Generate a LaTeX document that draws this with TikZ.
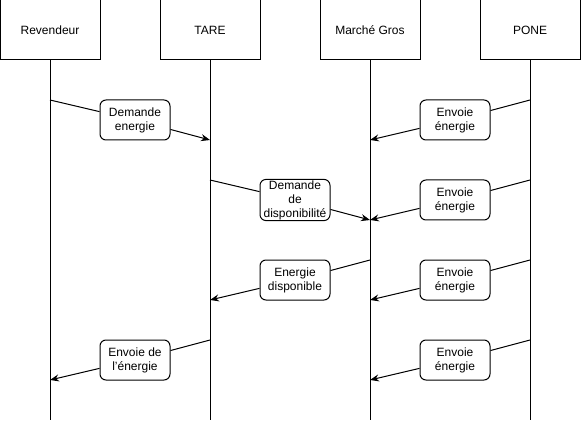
\documentclass[tikz,border=0pt]{standalone}
\usepackage{fontspec}
\setmainfont{Liberation Sans}
\usetikzlibrary{arrows.meta}
\begin{document}
\begin{tikzpicture}
        [x=1pt,y=-1pt,line width=1pt,
         actor/.style={draw,minimum width=100pt,minimum height=60pt,inner sep=0pt},
         msg/.style={draw,fill=white,rounded corners=6pt,minimum width=70pt,minimum height=40pt,
           inner sep=1pt,align=center},
         >={Stealth[length=9pt,width=7pt]}]
        \fontsize{12}{14}\selectfont
        \useasboundingbox (0,0) rectangle (581,422);

        \node[actor] (rev) at (50,30) {Revendeur};
        \node[actor] (tare) at (210,30) {TARE};
        \node[actor] (gros) at (370,30) {Marché Gros};
        \node[actor] (pone) at (530,30) {PONE};

        \foreach \n/\x in {rev/50,tare/210,gros/370,pone/530}
        {\coordinate (\n-end) at (\x,420);
         \draw (\n) -- (\n-end);}

        \coordinate (rev-100) at (50,100);
        \coordinate (tare-140) at (210,140);
        \node[msg] (dem) at (135,120) {Demande\\energie};
        \draw (rev-100) -- (dem);
        \draw[->] (dem) -- (tare-140);

        \coordinate (tare-180) at (210,180);
        \coordinate (gros-220) at (370,220);
        \node[msg] (dispo) at (295,200) {Demande\\de\\disponibilité};
        \draw (tare-180) -- (dispo);
        \draw[->] (dispo) -- (gros-220);

        \coordinate (gros-260) at (370,260);
        \coordinate (tare-300) at (210,300);
        \node[msg] (edisp) at (295,280) {Energie\\disponible};
        \draw (gros-260) -- (edisp);
        \draw[->] (edisp) -- (tare-300);

        \coordinate (tare-340) at (210,340);
        \coordinate (rev-380) at (50,380);
        \node[msg] (envrev) at (135,360) {Envoie de\\l'énergie};
        \draw (tare-340) -- (envrev);
        \draw[->] (envrev) -- (rev-380);

        \foreach \y in {100,180,260,340}
        {\coordinate (pone-\y) at (530,\y);
         \coordinate (gros-in-\y) at (370,\y+40);
         \node[msg] (env-\y) at (455,\y+20) {Envoie\\énergie};
         \draw (pone-\y) -- (env-\y);
         \draw[->] (env-\y) -- (gros-in-\y);}
      \end{tikzpicture}
\end{document}
